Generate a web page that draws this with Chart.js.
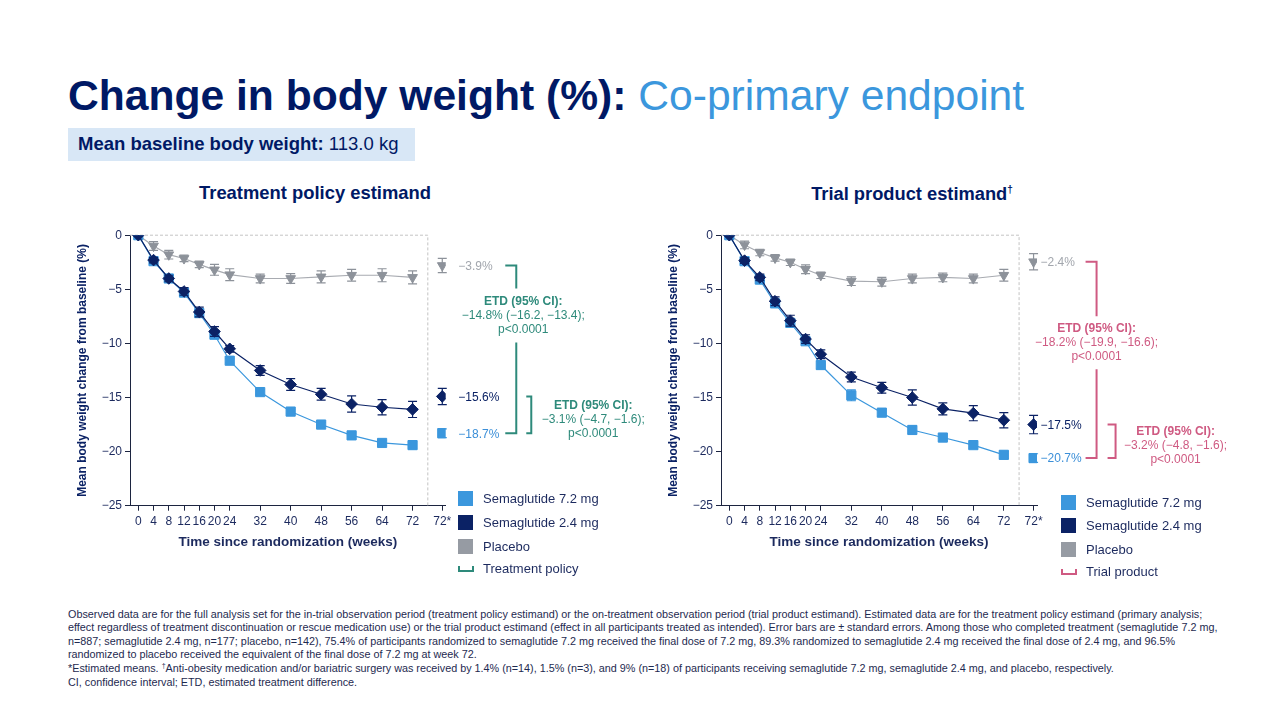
<!DOCTYPE html>
<html>
<head>
<meta charset="utf-8">
<script src="https://cdn.jsdelivr.net/npm/chart.js@4.4.1/dist/chart.umd.min.js"></script>
<style>
  body { margin: 0; width: 1280px; height: 720px; background: #fff; position: relative; overflow: hidden;
         font-family: "Liberation Sans", Arial, sans-serif; color: #001965; }
  .abs { position: absolute; white-space: nowrap; }
  .legend { position: absolute; font-size: 13px; color: #1c2a5e; }
  .legend .row { position: relative; padding-left: 25px; line-height: 15px; }
  .legend .sw { position: absolute; left: 0; top: 0; width: 15px; height: 15px; }
  .legend .br { position: absolute; left: 0; top: 5px; width: 12px; height: 4px; border: 2px solid; border-top: none; }
  .foot { position: absolute; left: 68px; top: 608px; font-size: 10.8px; line-height: 13.4px; color: #1e2a50; white-space: nowrap; }
  .dag { font-size: 7px; position: relative; top: -4px; }
</style>
</head>
<body>

<div class="abs" style="left:68px;top:74px;font-size:42.6px;line-height:1;color:#001965"><b>Change in body weight (%):</b> <span style="color:#3b97dd">Co-primary endpoint</span></div>

<div class="abs" style="left:68px;top:128px;width:347px;height:33px;background:#d8e7f6"></div>
<div class="abs" style="left:78px;top:135px;font-size:18.5px;line-height:1;color:#001965"><b>Mean baseline body weight:</b> 113.0 kg</div>

<div class="abs" style="left:165px;top:184px;width:300px;text-align:center;font-size:18.4px;line-height:1;font-weight:bold;color:#001965">Treatment policy estimand</div>
<div class="abs" style="left:762px;top:184.5px;width:300px;text-align:center;font-size:18.3px;line-height:1;font-weight:bold;color:#001965">Trial product estimand<span style="font-size:10px;position:relative;top:-7px">†</span></div>

<canvas id="tpChart" width="580" height="335" style="position:absolute;left:70px;top:225px"></canvas>
<canvas id="trChart" width="590" height="335" style="position:absolute;left:661px;top:225px"></canvas>

<div class="legend" style="left:458px;top:490.5px">
  <div class="row" style="height:24px"><span class="sw" style="background:#3b97dd"></span>Semaglutide 7.2 mg</div>
  <div class="row" style="height:24px"><span class="sw" style="background:#0b2265"></span>Semaglutide 2.4 mg</div>
  <div class="row" style="height:22px"><span class="sw" style="background:#969ba3"></span>Placebo</div>
  <div class="row"><span class="br" style="border-color:#2e8a7b"></span>Treatment policy</div>
</div>

<div class="legend" style="left:1061px;top:494.5px">
  <div class="row" style="height:23.5px"><span class="sw" style="background:#3b97dd"></span>Semaglutide 7.2 mg</div>
  <div class="row" style="height:23.5px"><span class="sw" style="background:#0b2265"></span>Semaglutide 2.4 mg</div>
  <div class="row" style="height:22px"><span class="sw" style="background:#969ba3"></span>Placebo</div>
  <div class="row"><span class="br" style="border-color:#cf5a82"></span>Trial product</div>
</div>

<div class="foot">
Observed data are for the full analysis set for the in-trial observation period (treatment policy estimand) or the on-treatment observation period (trial product estimand). Estimated data are for the treatment policy estimand (primary analysis;<br>
effect regardless of treatment discontinuation or rescue medication use) or the trial product estimand (effect in all participants treated as intended). Error bars are ± standard errors. Among those who completed treatment (semaglutide 7.2 mg,<br>
n=887; semaglutide 2.4 mg, n=177; placebo, n=142), 75.4% of participants randomized to semaglutide 7.2 mg received the final dose of 7.2 mg, 89.3% randomized to semaglutide 2.4 mg received the final dose of 2.4 mg, and 96.5%<br>
randomized to placebo received the equivalent of the final dose of 7.2 mg at week 72.<br>
*Estimated means. <span class="dag">†</span>Anti-obesity medication and/or bariatric surgery was received by 1.4% (n=14), 1.5% (n=3), and 9% (n=18) of participants receiving semaglutide 7.2 mg, semaglutide 2.4 mg, and placebo, respectively.<br>
CI, confidence interval; ETD, estimated treatment difference.
</div>

<script>
// weeks and axis ticks
const weeks = [0, 4, 8, 12, 16, 20, 24, 32, 40, 48, 56, 64, 72];
const estWeek = 79.8;   // position of the "72*" column
const boxWeek = 76;     // dashed separator
const xTickValues = [0, 4, 8, 12, 16, 20, 24, 32, 40, 48, 56, 64, 72, 79.8];
const xTickLabels = ['0', '4', '8', '12', '16', '20', '24', '32', '40', '48', '56', '64', '72', '72*'];
const yTickValues = [0, -5, -10, -15, -20, -25];

// treatment policy estimand (left)
const tpSema72    = [0, -2.4, -4.0, -5.3, -7.2, -9.2, -11.6, -14.5, -16.3, -17.5, -18.5, -19.2, -19.4];
const tpSema72Se  = [0, 0.15, 0.15, 0.2, 0.2, 0.25, 0.2, 0.2, 0.2, 0.2, 0.25, 0.25, 0.35];
const tpSema24    = [0, -2.3, -4.0, -5.2, -7.1, -8.9, -10.5, -12.5, -13.8, -14.7, -15.6, -15.9, -16.1];
const tpSema24Se  = [0, 0.25, 0.3, 0.35, 0.45, 0.45, 0.3, 0.45, 0.55, 0.55, 0.75, 0.7, 0.75];
const tpPlacebo   = [0, -1.0, -1.8, -2.15, -2.7, -3.2, -3.65, -4.0, -4.0, -3.85, -3.7, -3.7, -3.9];
const tpPlaceboSe = [0, 0.4, 0.4, 0.3, 0.3, 0.5, 0.55, 0.4, 0.45, 0.55, 0.55, 0.6, 0.6];
const tpEst       = [-18.3, -14.9, -2.8];          // 7.2 mg, 2.4 mg, placebo at 72*
const tpEstSe     = [0.4, 0.75, 0.65];
const tpEstLabels = ['−18.7%', '−15.6%', '−3.9%'];
const tpEtdMain   = ['ETD (95% CI):', '−14.8% (−16.2, −13.4);', 'p<0.0001'];
const tpEtdDose   = ['ETD (95% CI):', '−3.1% (−4.7, −1.6);', 'p<0.0001'];

// trial product estimand (right)
const trSema72    = [0, -2.4, -4.1, -6.3, -8.1, -9.8, -12.0, -14.8, -16.4, -18.0, -18.7, -19.4, -20.3];
const trSema72Se  = [0, 0.15, 0.3, 0.3, 0.35, 0.3, 0.35, 0.5, 0.3, 0.35, 0.3, 0.3, 0.35];
const trSema24    = [0, -2.35, -3.9, -6.1, -7.9, -9.6, -11.0, -13.1, -14.1, -15.0, -16.05, -16.45, -17.1];
const trSema24Se  = [0, 0.25, 0.3, 0.4, 0.5, 0.4, 0.4, 0.45, 0.5, 0.7, 0.55, 0.7, 0.7];
const trPlacebo   = [0, -0.9, -1.6, -2.1, -2.5, -3.15, -3.7, -4.25, -4.3, -4.0, -3.9, -4.0, -3.7];
const trPlaceboSe = [0, 0.35, 0.3, 0.3, 0.3, 0.4, 0.3, 0.4, 0.4, 0.4, 0.4, 0.4, 0.55];
const trEst       = [-20.6, -17.5, -2.45];
const trEstSe     = [0.4, 0.85, 0.75];
const trEstLabels = ['−20.7%', '−17.5%', '−2.4%'];
const trEtdMain   = ['ETD (95% CI):', '−18.2% (−19.9, −16.6);', 'p<0.0001'];
const trEtdDose   = ['ETD (95% CI):', '−3.2% (−4.8, −1.6);', 'p<0.0001'];

const colSema72 = '#3b97dd';
const colSema24 = '#0b2265';
const colPlacebo = '#8d929a';
const colPlaceboLine = '#a8abb1';
const axisColor = '#1c2440';
const tickColor = '#1c2a5e';
const FONT = '"Liberation Sans", Arial, sans-serif';

// error bars, drawn under each dataset
const errorBars = {
  id: 'errorBars',
  beforeDatasetDraw(chart, args) {
    const ds = chart.data.datasets[args.index];
    if (!ds.se) return;
    const y = chart.scales.y;
    const ctx = chart.ctx;
    ctx.save();
    ctx.strokeStyle = ds.pointBorderColor;
    ctx.lineWidth = 1.2;
    args.meta.data.forEach((pt, i) => {
      const se = ds.se[i];
      if (!se) return;
      const v = ds.data[i].y;
      const t = y.getPixelForValue(v + se), b = y.getPixelForValue(v - se);
      ctx.beginPath();
      ctx.moveTo(pt.x, t); ctx.lineTo(pt.x, b);
      ctx.moveTo(pt.x - 4.5, t); ctx.lineTo(pt.x + 4.5, t);
      ctx.moveTo(pt.x - 4.5, b); ctx.lineTo(pt.x + 4.5, b);
      ctx.stroke();
    });
    ctx.restore();
  }
};

// dashed separator, value labels, ETD brackets
const etdNotes = {
  id: 'etdNotes',
  beforeDatasetsDraw(chart) {
    const {x, y} = chart.scales;
    const ctx = chart.ctx;
    const bx = x.getPixelForValue(boxWeek);
    ctx.save();
    ctx.strokeStyle = '#c4c4c4';
    ctx.lineWidth = 1;
    ctx.setLineDash([3, 2]);
    ctx.beginPath();
    ctx.moveTo(x.left, y.getPixelForValue(0));
    ctx.lineTo(bx, y.getPixelForValue(0));
    ctx.lineTo(bx, y.getPixelForValue(-25));
    ctx.stroke();
    ctx.restore();
  },
  afterDatasetsDraw(chart, args, o) {
    const {x, y} = chart.scales;
    const ctx = chart.ctx;
    const mx = x.getPixelForValue(estWeek);
    const py = o.est.map(v => y.getPixelForValue(v));
    ctx.save();
    ctx.textBaseline = 'middle';
    ctx.textAlign = 'left';
    ctx.font = '12px ' + FONT;
    const labelColors = ['#3b8fd8', '#0b2265', '#a2a6ad'];
    o.labels.forEach((t, i) => {
      ctx.fillStyle = labelColors[i];
      ctx.fillText(t, mx + o.labelDx, py[i] + 1);
    });

    ctx.strokeStyle = o.color;
    ctx.lineWidth = 2;
    // placebo vs 7.2 mg
    const b1 = o.bracketMain;
    const t1 = py[2] + o.mainTextDy;
    ctx.beginPath();
    ctx.moveTo(mx + b1[0], py[2]); ctx.lineTo(mx + b1[1], py[2]); ctx.lineTo(mx + b1[1], t1 - o.gap);
    ctx.moveTo(mx + b1[1], t1 + o.gap); ctx.lineTo(mx + b1[1], py[0]); ctx.lineTo(mx + b1[0], py[0]);
    ctx.stroke();
    // 2.4 mg vs 7.2 mg
    const b2 = o.bracketDose;
    ctx.beginPath();
    ctx.moveTo(mx + b2[0], py[1]); ctx.lineTo(mx + b2[1], py[1]); ctx.lineTo(mx + b2[1], py[0]); ctx.lineTo(mx + b2[0], py[0]);
    ctx.stroke();

    ctx.fillStyle = o.color;
    ctx.textAlign = 'center';
    const drawBlock = (lines, cx, cy) => {
      lines.forEach((t, i) => {
        ctx.font = (i === 0 ? 'bold ' : '') + '12px ' + FONT;
        ctx.fillText(t, cx, cy + (i - 1) * 14);
      });
    };
    drawBlock(o.mainText, mx + o.mainTextDx, t1);
    drawBlock(o.doseText, mx + o.doseTextDx, (py[1] + py[0]) / 2 + o.doseTextDy);
    ctx.restore();
  }
};

function pts(vals, at) {
  return vals.map((v, i) => ({x: at ? at : weeks[i], y: v}));
}

function series(label, vals, se, color, lineColor, style, radius, rot, order) {
  return {
    label: label, data: pts(vals), se: se, order: order,
    borderColor: lineColor, borderWidth: 1.2,
    pointStyle: style, pointRadius: radius, pointRotation: rot,
    pointBackgroundColor: color, pointBorderColor: color, pointBorderWidth: 1,
    tension: 0
  };
}

function estPoint(label, v, se, color, style, radius, rot, order) {
  return {
    label: label, data: [{x: estWeek, y: v}], se: [se], order: order, showLine: false,
    pointStyle: style, pointRadius: radius, pointRotation: rot,
    pointBackgroundColor: color, pointBorderColor: color, pointBorderWidth: 1
  };
}

function buildChart(id, d, notes, padRight) {
  new Chart(document.getElementById(id), {
    type: 'line',
    data: {
      datasets: [
        series('Semaglutide 7.2 mg', d.s72, d.s72se, colSema72, colSema72, 'rect', 6.5, 0, 1),
        series('Semaglutide 2.4 mg', d.s24, d.s24se, colSema24, colSema24, 'rectRot', 5.8, 0, 0),
        series('Placebo', d.pl, d.plse, colPlacebo, colPlaceboLine, 'triangle', 5.6, 180, 2),
        estPoint('Semaglutide 7.2 mg (est.)', d.est[0], d.estSe[0], colSema72, 'rect', 6.5, 0, 1),
        estPoint('Semaglutide 2.4 mg (est.)', d.est[1], d.estSe[1], colSema24, 'rectRot', 5.8, 0, 0),
        estPoint('Placebo (est.)', d.est[2], d.estSe[2], colPlacebo, 'triangle', 5.6, 180, 2)
      ]
    },
    options: {
      responsive: false,
      animation: false,
      layout: {padding: {top: 10, right: padRight, left: 0, bottom: 0}},
      plugins: {legend: {display: false}, tooltip: {enabled: false}, etdNotes: notes},
      scales: {
        x: {
          type: 'linear', min: -2.18, max: 80.7,
          afterBuildTicks: s => { s.ticks = xTickValues.map(v => ({value: v})); },
          afterFit: s => { s.height = 54.3; },
          ticks: {autoSkip: false, maxRotation: 0, padding: 4, color: tickColor,
                  font: {family: FONT, size: 12}, callback: (v, i) => xTickLabels[i]},
          grid: {drawOnChartArea: false, drawTicks: true, tickLength: 5, color: axisColor},
          border: {color: axisColor, width: 1},
          title: {display: true, text: 'Time since randomization (weeks)', color: '#1c2a5e',
                  font: {family: FONT, size: 13.5, weight: 'bold'}, padding: {top: 0, bottom: 10}}
        },
        y: {
          min: -25, max: 0,
          afterBuildTicks: s => { s.ticks = yTickValues.map(v => ({value: v})); },
          afterFit: s => { s.width = 60; },
          ticks: {padding: 3, color: tickColor, font: {family: FONT, size: 12},
                  callback: v => (v === 0 ? '0' : '−' + Math.abs(v))},
          grid: {drawOnChartArea: false, drawTicks: true, tickLength: 5, color: axisColor},
          border: {color: axisColor, width: 1},
          title: {display: true, text: 'Mean body weight change from baseline (%)', color: '#0b2265',
                  font: {family: FONT, size: 12, weight: 'bold'}, padding: {top: 5, bottom: 0}}
        }
      }
    },
    plugins: [errorBars, etdNotes]
  });
}

buildChart('tpChart',
  {s72: tpSema72, s72se: tpSema72Se, s24: tpSema24, s24se: tpSema24Se, pl: tpPlacebo, plse: tpPlaceboSe, est: tpEst, estSe: tpEstSe},
  {est: tpEst, labels: tpEstLabels, labelDx: 16, color: '#2e8a7b',
   bracketMain: [63, 74], bracketDose: [84, 89], gap: 27,
   mainText: tpEtdMain, mainTextDx: 81, mainTextDy: 50,
   doseText: tpEtdDose, doseTextDx: 151, doseTextDy: 5},
  204.3);

buildChart('trChart',
  {s72: trSema72, s72se: trSema72Se, s24: trSema24, s24se: trSema24Se, pl: trPlacebo, plse: trPlaceboSe, est: trEst, estSe: trEstSe},
  {est: trEst, labels: trEstLabels, labelDx: 7, color: '#cf5a82',
   bracketMain: [52, 63], bracketDose: [74, 82], gap: 26.5,
   mainText: trEtdMain, mainTextDx: 63, mainTextDy: 81,
   doseText: trEtdDose, doseTextDx: 142, doseTextDy: 4},
  214);
</script>
</body>
</html>
